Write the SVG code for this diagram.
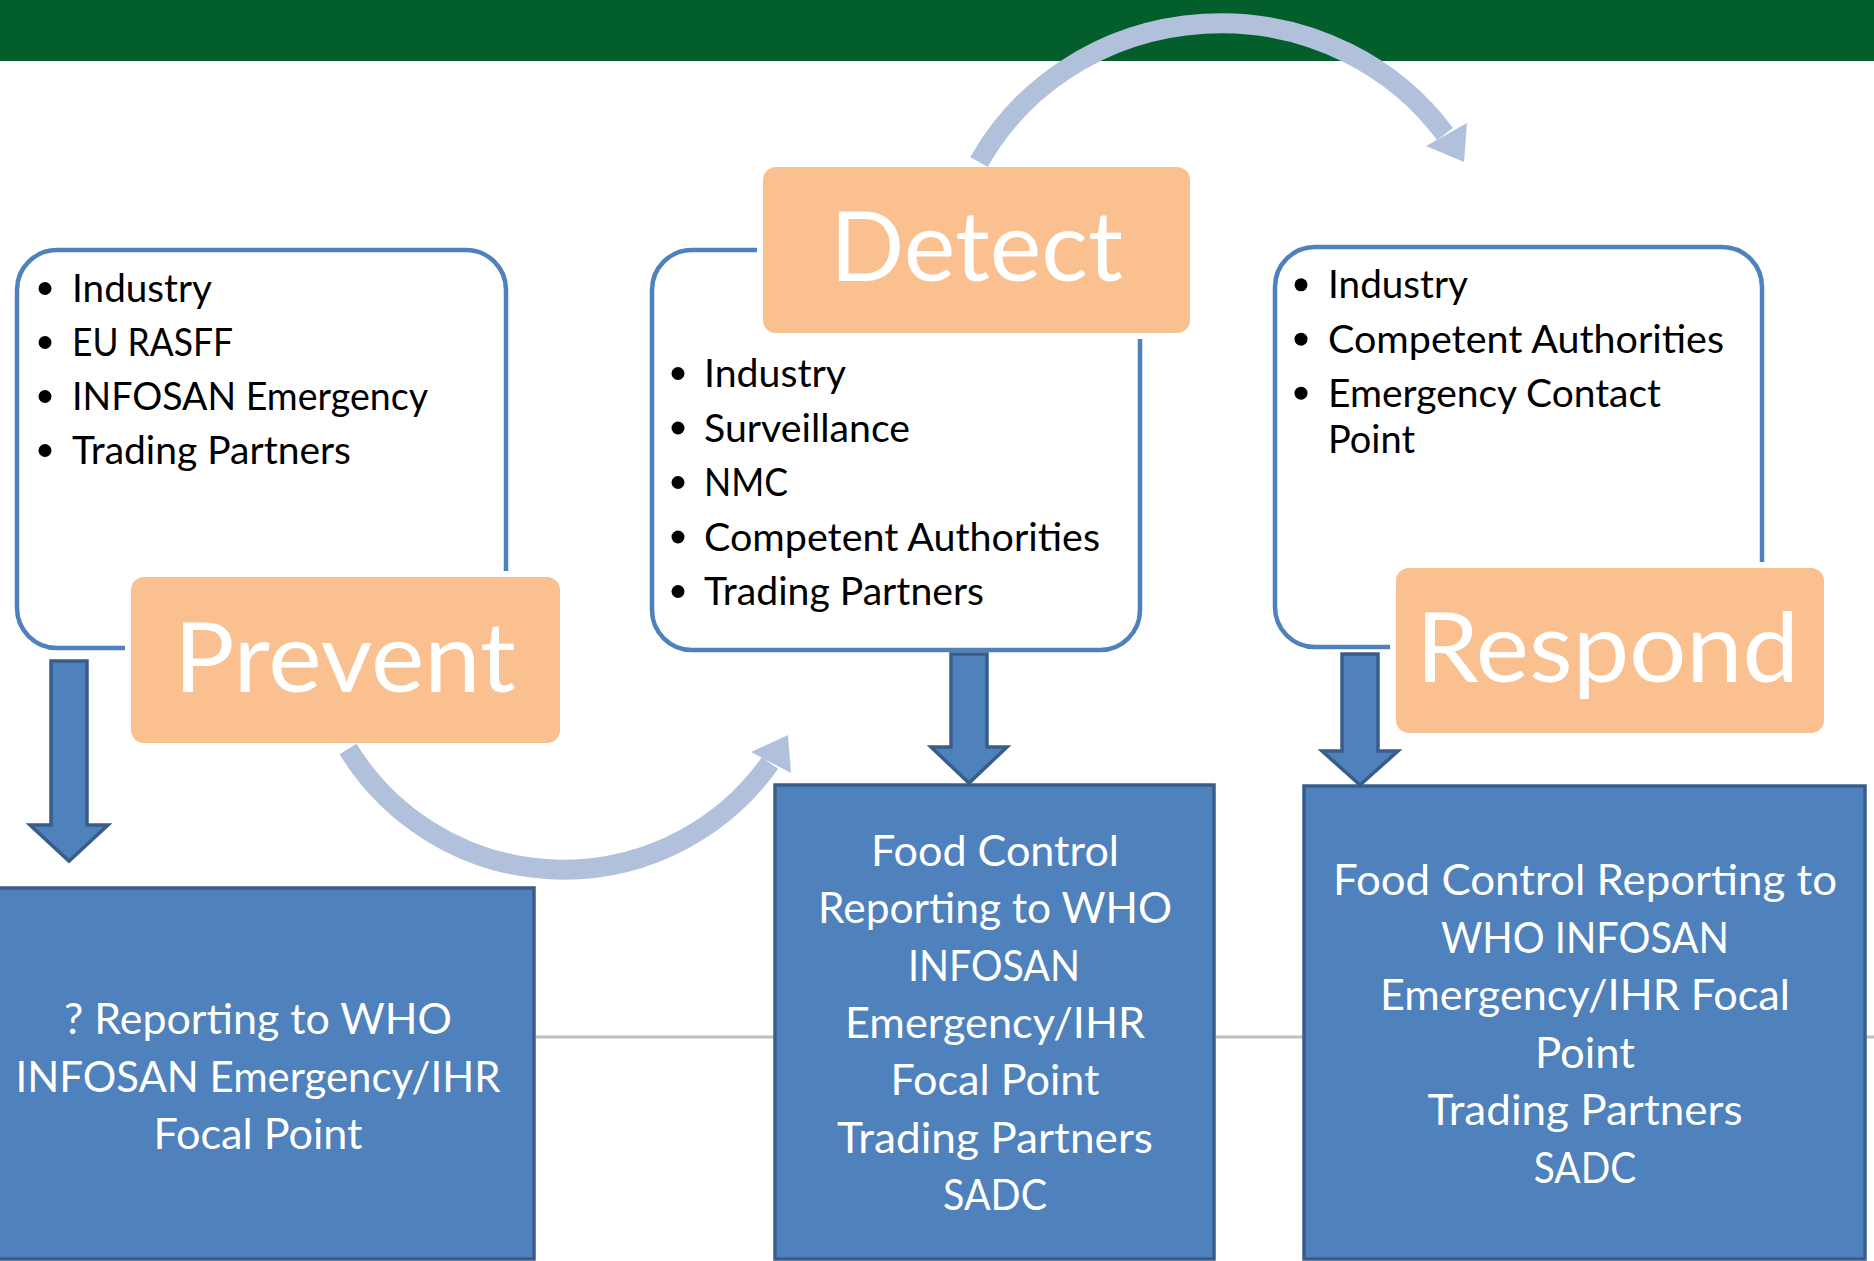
<svg xmlns="http://www.w3.org/2000/svg" width="1874" height="1261" viewBox="0 0 1874 1261">
<style>
.panel{fill:#FFFFFF;stroke:#4F81BD;stroke-width:4.5}
.gap{fill:#FFFFFF}
.label{fill:#FAC090}
.big{font-family:Lato,"Open Sans","Liberation Sans",sans-serif;font-size:97px;fill:#FFFFFF}
.li{font-family:Lato,"Open Sans","Liberation Sans",sans-serif;font-size:38px;fill:#000000}
.out{fill:#4F81BD;stroke:#385D8A;stroke-width:3.5}
.ot{font-family:Lato,"Open Sans","Liberation Sans",sans-serif;font-size:43px;fill:#FFFFFF;text-anchor:middle}
.curve{fill:none;stroke:#B2C1DB;stroke-width:20}
.curvehead{fill:#B2C1DB}
.down{fill:#4F81BD;stroke:#385D8A;stroke-width:3.5;stroke-linejoin:miter}
</style>
<rect x="0" y="0" width="1874" height="61" fill="#025E2A"/>
<line x1="0" y1="1037" x2="1874" y2="1037" stroke="#BFBFBF" stroke-width="3"/>

<g id="prevent">
  <rect class="panel" x="17" y="250" width="489" height="398" rx="40"/>
  <rect class="gap" x="125" y="571" width="441" height="178" rx="18"/>
  <rect class="label" x="131" y="577" width="429" height="166" rx="13"/>
  <text class="big" x="174" y="692" textLength="342" lengthAdjust="spacingAndGlyphs">Prevent</text>
  <g class="li">
    <circle cx="45" cy="288.5" r="6.5"/><text x="72" y="302" textLength="140" lengthAdjust="spacingAndGlyphs">Industry</text>
    <circle cx="45" cy="342.5" r="6.5"/><text x="72" y="356" textLength="161" lengthAdjust="spacingAndGlyphs">EU RASFF</text>
    <circle cx="45" cy="396.5" r="6.5"/><text x="72" y="410" textLength="356" lengthAdjust="spacingAndGlyphs">INFOSAN Emergency</text>
    <circle cx="45" cy="450.5" r="6.5"/><text x="72" y="464" textLength="279" lengthAdjust="spacingAndGlyphs">Trading Partners</text>
  </g>
</g>

<g id="detect">
  <rect class="panel" x="652" y="250" width="488" height="400" rx="40"/>
  <rect class="gap" x="757" y="161" width="439" height="178" rx="18"/>
  <rect class="label" x="763" y="167" width="427" height="166" rx="13"/>
  <text class="big" x="830" y="281" textLength="293" lengthAdjust="spacingAndGlyphs">Detect</text>
  <g class="li">
    <circle cx="678" cy="373.5" r="6.5"/><text x="704" y="387" textLength="142" lengthAdjust="spacingAndGlyphs">Industry</text>
    <circle cx="678" cy="428" r="6.5"/><text x="704" y="441.5" textLength="206" lengthAdjust="spacingAndGlyphs">Surveillance</text>
    <circle cx="678" cy="482.5" r="6.5"/><text x="704" y="496" textLength="84" lengthAdjust="spacingAndGlyphs">NMC</text>
    <circle cx="678" cy="537" r="6.5"/><text x="704" y="550.5" textLength="396" lengthAdjust="spacingAndGlyphs">Competent Authorities</text>
    <circle cx="678" cy="591.5" r="6.5"/><text x="704" y="605" textLength="280" lengthAdjust="spacingAndGlyphs">Trading Partners</text>
  </g>
</g>

<g id="respond">
  <rect class="panel" x="1275" y="247" width="487" height="400" rx="40"/>
  <rect class="gap" x="1390" y="562" width="440" height="177" rx="18"/>
  <rect class="label" x="1396" y="568" width="428" height="165" rx="13"/>
  <text class="big" x="1416" y="682" textLength="383" lengthAdjust="spacingAndGlyphs">Respond</text>
  <g class="li">
    <circle cx="1301" cy="284.8" r="6.5"/><text x="1328" y="298.3" textLength="140" lengthAdjust="spacingAndGlyphs">Industry</text>
    <circle cx="1301" cy="339.2" r="6.5"/><text x="1328" y="352.7" textLength="396" lengthAdjust="spacingAndGlyphs">Competent Authorities</text>
    <circle cx="1301" cy="393.2" r="6.5"/><text x="1328" y="406.7" textLength="333" lengthAdjust="spacingAndGlyphs">Emergency Contact</text>
    <text x="1328" y="453" textLength="87" lengthAdjust="spacingAndGlyphs">Point</text>
  </g>
</g>

<g id="connectors">
  <path class="curve" d="M 979 162 A 275 264 0 0 1 1445 134"/>
  <polygon class="curvehead" points="1467,123 1426,146 1464,162"/>
  <path class="curve" d="M 348 749 A 253 253 0 0 0 770 763"/>
  <polygon class="curvehead" points="788,735 751,752 791,773"/>
  <polygon class="down" points="51,661 87,661 87,825 108,825 69,861 30,825 51,825"/>
  <polygon class="down" points="951,654 987,654 987,747 1007,747 969,783 931,747 951,747"/>
  <polygon class="down" points="1342,654 1378,654 1378,751 1398,751 1360,785 1322,751 1342,751"/>
</g>

<g id="out-prevent">
  <rect class="out" x="-5" y="888" width="539" height="371"/>
  <text class="ot" x="258" y="1034" textLength="388" lengthAdjust="spacingAndGlyphs">? Reporting to WHO</text>
  <text class="ot" x="258" y="1091.5" textLength="485" lengthAdjust="spacingAndGlyphs">INFOSAN Emergency/IHR</text>
  <text class="ot" x="258" y="1149" textLength="209" lengthAdjust="spacingAndGlyphs">Focal Point</text>
</g>

<g id="out-detect">
  <rect class="out" x="775" y="785" width="439" height="474"/>
  <text class="ot" x="995" y="866" textLength="248" lengthAdjust="spacingAndGlyphs">Food Control</text>
  <text class="ot" x="995" y="923.3" textLength="354" lengthAdjust="spacingAndGlyphs">Reporting to WHO</text>
  <text class="ot" x="994" y="980.6" textLength="172" lengthAdjust="spacingAndGlyphs">INFOSAN</text>
  <text class="ot" x="995" y="1038" textLength="300" lengthAdjust="spacingAndGlyphs">Emergency/IHR</text>
  <text class="ot" x="995" y="1095.2" textLength="209" lengthAdjust="spacingAndGlyphs">Focal Point</text>
  <text class="ot" x="995" y="1152.5" textLength="316" lengthAdjust="spacingAndGlyphs">Trading Partners</text>
  <text class="ot" x="995" y="1209.8" textLength="104" lengthAdjust="spacingAndGlyphs">SADC</text>
</g>

<g id="out-respond">
  <rect class="out" x="1304" y="786" width="561" height="473"/>
  <text class="ot" x="1585" y="895.4" textLength="504" lengthAdjust="spacingAndGlyphs">Food Control Reporting to</text>
  <text class="ot" x="1585" y="953" textLength="288" lengthAdjust="spacingAndGlyphs">WHO INFOSAN</text>
  <text class="ot" x="1585" y="1010" textLength="410" lengthAdjust="spacingAndGlyphs">Emergency/IHR Focal</text>
  <text class="ot" x="1585" y="1068" textLength="100" lengthAdjust="spacingAndGlyphs">Point</text>
  <text class="ot" x="1585" y="1125" textLength="315" lengthAdjust="spacingAndGlyphs">Trading Partners</text>
  <text class="ot" x="1585" y="1182.6" textLength="102.5" lengthAdjust="spacingAndGlyphs">SADC</text>
</g>
</svg>
